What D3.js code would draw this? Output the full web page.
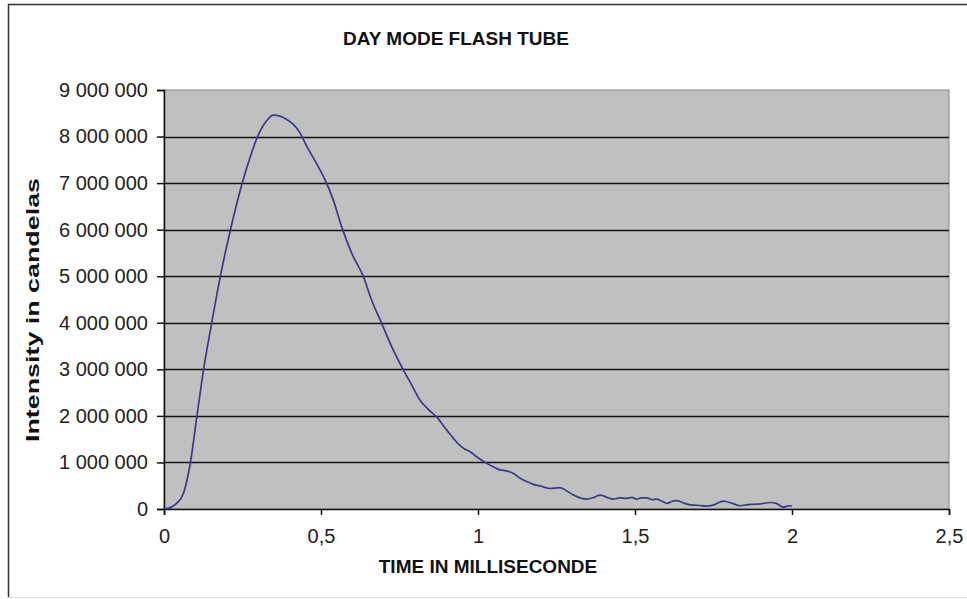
<!DOCTYPE html>
<html><head><meta charset="utf-8">
<script src="https://cdn.jsdelivr.net/npm/d3@7"></script>
<style>html,body{margin:0;padding:0;background:#fff;}svg{display:block;font-family:Arial,"Liberation Sans",sans-serif;}</style>
</head><body>
<script>
const titleText = "DAY MODE FLASH TUBE";
const xTitle = "TIME IN MILLISECONDE";
const yTitle = "Intensity in candelas";
const xTickValues = [0, 0.5, 1, 1.5, 2, 2.5];
const xTickLabels = ["0", "0,5", "1", "1,5", "2", "2,5"];
const yTickValues = [0, 1e6, 2e6, 3e6, 4e6, 5e6, 6e6, 7e6, 8e6, 9e6];
const timeMs = [0, 0.02, 0.04, 0.062, 0.083, 0.104, 0.125, 0.152, 0.178, 0.21, 0.247, 0.274, 0.30, 0.327, 0.348, 0.369, 0.39, 0.412, 0.433, 0.454, 0.486, 0.513, 0.539, 0.566, 0.598, 0.635, 0.661, 0.693, 0.725, 0.762, 0.79, 0.815, 0.84, 0.868, 0.90, 0.937, 0.955, 0.975, 1.0, 1.028, 1.05, 1.07, 1.09, 1.112, 1.134, 1.155, 1.176, 1.2, 1.229, 1.261, 1.28, 1.304, 1.325, 1.346, 1.37, 1.389, 1.41, 1.431, 1.45, 1.474, 1.49, 1.505, 1.52, 1.537, 1.555, 1.569, 1.585, 1.601, 1.62, 1.633, 1.655, 1.675, 1.70, 1.728, 1.755, 1.781, 1.81, 1.834, 1.855, 1.877, 1.90, 1.93, 1.95, 1.972, 1.985, 2.0];
const intensity = [0, 30000, 120000, 340000, 950000, 1950000, 2950000, 4000000, 4950000, 5950000, 6950000, 7550000, 8030000, 8340000, 8460000, 8440000, 8370000, 8260000, 8080000, 7800000, 7420000, 7070000, 6640000, 6060000, 5490000, 4990000, 4490000, 3990000, 3490000, 2990000, 2650000, 2340000, 2150000, 1980000, 1700000, 1400000, 1300000, 1230000, 1100000, 980000, 900000, 840000, 820000, 770000, 660000, 590000, 530000, 490000, 440000, 460000, 400000, 300000, 240000, 210000, 250000, 300000, 250000, 210000, 240000, 230000, 250000, 210000, 240000, 240000, 200000, 210000, 170000, 120000, 170000, 180000, 130000, 90000, 80000, 60000, 100000, 170000, 120000, 70000, 90000, 100000, 110000, 140000, 120000, 40000, 60000, 70000];

const W = 967, H = 599;
const svg = d3.select("body").append("svg").attr("width", W).attr("height", H);

// outer chart border
svg.append("line").attr("x1", 8).attr("y1", 4.5).attr("x2", W).attr("y2", 4.5).attr("stroke", "#333").attr("stroke-width", 1.5);
svg.append("line").attr("x1", 8.5).attr("y1", 4).attr("x2", 8.5).attr("y2", 597).attr("stroke", "#333").attr("stroke-width", 1.5);
svg.append("line").attr("x1", 8).attr("y1", 597.5).attr("x2", W).attr("y2", 597.5).attr("stroke", "#ddd").attr("stroke-width", 1);

const plot = {left: 164, right: 949, top: 90, bottom: 509};
const x = d3.scaleLinear().domain([0, 2.5]).range([plot.left, plot.right]);
const y = d3.scaleLinear().domain([0, 9e6]).range([plot.bottom, plot.top]);

svg.append("rect").attr("x", plot.left).attr("y", plot.top)
  .attr("width", plot.right - plot.left).attr("height", plot.bottom - plot.top)
  .attr("fill", "#c0c0c0").attr("stroke", "#888").attr("stroke-width", 1);

// gridlines
svg.append("g").selectAll("line").data(yTickValues.filter(v => v > 0 && v < 9e6)).join("line")
  .attr("x1", plot.left).attr("x2", plot.right)
  .attr("y1", d => Math.round(y(d)) + 0.5).attr("y2", d => Math.round(y(d)) + 0.5)
  .attr("stroke", "#111").attr("stroke-width", 1.6);

// y axis
const yAxis = d3.axisLeft(y).tickValues(yTickValues).tickSize(7).tickPadding(9)
  .tickFormat(d => d3.format(",")(d).replace(/,/g, " "));
const gy = svg.append("g").attr("transform", `translate(${plot.left},0)`).call(yAxis);
gy.select(".domain").attr("stroke", "#111").attr("stroke-width", 1.5);
gy.selectAll(".tick line").attr("stroke", "#111").attr("stroke-width", 1.5);
gy.selectAll("text").attr("font-size", 20).attr("fill", "#222").attr("font-family", "Arial, 'Liberation Sans', sans-serif");

// x axis
const xAxis = d3.axisBottom(x).tickValues(xTickValues).tickSize(6).tickPadding(14)
  .tickFormat((d, i) => xTickLabels[i]);
const gx = svg.append("g").attr("transform", `translate(0,${plot.bottom})`).call(xAxis);
gx.select(".domain").attr("stroke", "#111").attr("stroke-width", 1.5);
gx.selectAll(".tick line").attr("stroke", "#111").attr("stroke-width", 1.5);
gx.selectAll("text").attr("font-size", 20).attr("fill", "#222").attr("font-family", "Arial, 'Liberation Sans', sans-serif");

// curve
const line = d3.line().x((d, i) => x(timeMs[i])).y(d => y(d)).curve(d3.curveMonotoneX);
svg.append("path").datum(intensity).attr("d", line)
  .attr("fill", "none").attr("stroke", "#3a3a8c").attr("stroke-width", 1.7);

// titles
svg.append("text").attr("x", 343).attr("y", 45).attr("font-size", 19).attr("font-weight", "bold")
  .attr("fill", "#111").text(titleText);
svg.append("text").attr("x", 488).attr("y", 573).attr("text-anchor", "middle").attr("font-size", 19)
  .attr("font-weight", "bold").attr("fill", "#111").text(xTitle);
svg.append("text").attr("transform", "translate(39,310) rotate(-90)").attr("text-anchor", "middle")
  .attr("font-size", 19).attr("font-weight", "bold").attr("fill", "#111")
  .attr("textLength", 264).attr("lengthAdjust", "spacingAndGlyphs").text(yTitle);
</script>
</body></html>
